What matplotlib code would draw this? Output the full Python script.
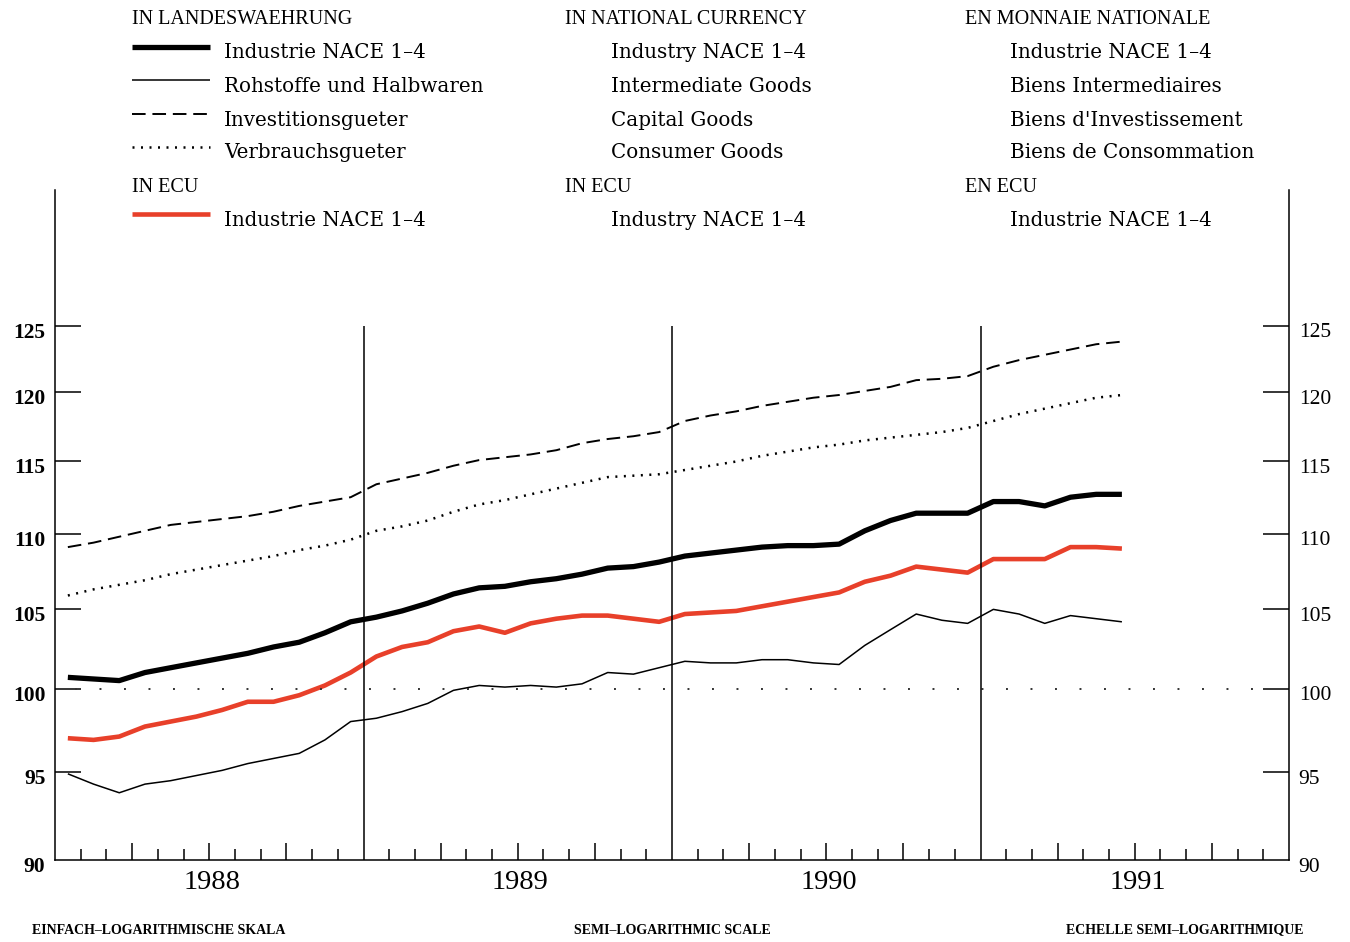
import numpy as np
import matplotlib.pyplot as plt
from matplotlib.lines import Line2D
from matplotlib.ticker import NullLocator, FixedLocator
from matplotlib import transforms

plt.rcParams['font.family'] = ['Liberation Serif', 'DejaVu Serif']

# monthly index values, Jan 1988 - Jun 1991
industrie = [100.7, 100.6, 100.5, 101.0, 101.3, 101.6, 101.9, 102.2, 102.6, 102.9, 103.5, 104.2,
             104.5, 104.9, 105.4, 106.0, 106.4, 106.5, 106.8, 107.0, 107.3, 107.7, 107.8, 108.1,
             108.5, 108.7, 108.9, 109.1, 109.2, 109.2, 109.3, 110.2, 110.9, 111.4, 111.4, 111.4,
             112.2, 112.2, 111.9, 112.5, 112.7, 112.7]
rohstoffe = [94.9, 94.3, 93.8, 94.3, 94.5, 94.8, 95.1, 95.5, 95.8, 96.1, 96.9, 98.0,
             98.2, 98.6, 99.1, 99.9, 100.2, 100.1, 100.2, 100.1, 100.3, 101.0, 100.9, 101.3,
             101.7, 101.6, 101.6, 101.8, 101.8, 101.6, 101.5, 102.7, 103.7, 104.7, 104.3, 104.1,
             105.0, 104.7, 104.1, 104.6, 104.4, 104.2]
investition = [109.1, 109.4, 109.8, 110.2, 110.6, 110.8, 111.0, 111.2, 111.5, 111.9, 112.2, 112.5,
               113.4, 113.8, 114.2, 114.7, 115.1, 115.3, 115.5, 115.8, 116.3, 116.6, 116.8, 117.1,
               117.9, 118.3, 118.6, 119.0, 119.3, 119.6, 119.8, 120.1, 120.4, 120.9, 121.0, 121.2,
               121.9, 122.4, 122.8, 123.2, 123.6, 123.8]
verbrauch = [105.9, 106.3, 106.6, 106.9, 107.3, 107.6, 107.9, 108.2, 108.5, 108.9, 109.2, 109.6,
             110.2, 110.5, 110.9, 111.5, 112.0, 112.3, 112.7, 113.1, 113.5, 113.9, 114.0, 114.1,
             114.4, 114.7, 115.0, 115.4, 115.7, 116.0, 116.2, 116.5, 116.7, 116.9, 117.1, 117.4,
             117.9, 118.4, 118.8, 119.2, 119.6, 119.8]
industrie_ecu = [97.0, 96.9, 97.1, 97.7, 98.0, 98.3, 98.7, 99.2, 99.2, 99.6, 100.2, 101.0,
                 102.0, 102.6, 102.9, 103.6, 103.9, 103.5, 104.1, 104.4, 104.6, 104.6, 104.4, 104.2,
                 104.7, 104.8, 104.9, 105.2, 105.5, 105.8, 106.1, 106.8, 107.2, 107.8, 107.6, 107.4,
                 108.3, 108.3, 108.3, 109.1, 109.1, 109.0]

years = ['1988', '1989', '1990', '1991']
y_ticks = [90, 95, 100, 105, 110, 115, 120, 125]

col_headers = [['IN LANDESWAEHRUNG', 'IN ECU'],
               ['IN NATIONAL CURRENCY', 'IN ECU'],
               ['EN MONNAIE NATIONALE', 'EN ECU']]
col_labels = [['Industrie NACE 1–4', 'Rohstoffe und Halbwaren', 'Investitionsgueter',
               'Verbrauchsgueter', 'Industrie NACE 1–4'],
              ['Industry NACE 1–4', 'Intermediate Goods', 'Capital Goods',
               'Consumer Goods', 'Industry NACE 1–4'],
              ['Industrie NACE 1–4', 'Biens Intermediaires', "Biens d'Investissement",
               'Biens de Consommation', 'Industrie NACE 1–4']]
captions = ['EINFACH–LOGARITHMISCHE SKALA', 'SEMI–LOGARITHMIC SCALE', 'ECHELLE SEMI–LOGARITHMIQUE']

RED = '#e8402a'
styles = [dict(color='black', lw=3.8, ls='-'),
          dict(color='black', lw=1.1, ls='-'),
          dict(color='black', lw=1.4, ls=(0, (7, 3.5))),
          dict(color='black', lw=1.8, ls=(0, (0.8, 2.6))),
          dict(color=RED, lw=3.3, ls='-')]

W, H = 1350, 942
fig = plt.figure(figsize=(W / 100, H / 100), dpi=100)
ax = fig.add_axes([55 / W, 1 - 860 / H, (1289 - 55) / W, (860 - 190) / H])
ax.set_yscale('log')
ax.set_ylim(90, 135.9)
ax.set_xlim(0, 48)

x = np.arange(len(industrie)) + 0.5
series = [industrie, rohstoffe, investition, verbrauch, industrie_ecu]
for vals, st in zip(series, styles):
    ax.plot(x, vals, solid_capstyle='butt', dash_capstyle='butt', **st)

# reference line at 100 and year separators
ax.axhline(100, xmin=0.016, xmax=0.985, color='#333333', lw=1.4, ls=(0, (1, 11.6)))
ax.vlines([12, 24, 36], 90, 125, color='black', lw=1.1)

# y axis
ax.yaxis.set_minor_locator(NullLocator())
ax.set_yticks(y_ticks, labels=[str(v) for v in y_ticks])
ax.tick_params(axis='y', which='major', direction='in', length=19, width=1.1,
               left=True, right=True, labelleft=True, labelright=True, pad=7)
offset = transforms.ScaledTranslation(0, -0.045, fig.dpi_scale_trans)
for t in ax.yaxis.get_major_ticks():
    t.label1.set_fontsize(15.5)
    t.label1.set_fontweight('bold')
    t.label2.set_fontsize(15.5)
    t.label1.set_transform(t.label1.get_transform() + offset)
    t.label2.set_transform(t.label2.get_transform() + offset)
    if t.get_loc() == 90:
        t.tick1line.set_visible(False)
        t.tick2line.set_visible(False)

# x axis: monthly ticks, longer at quarters
months = np.arange(1, 48)
quarters = [m for m in months if m % 3 == 0 and m % 12 != 0]
others = [m for m in months if m % 3 != 0]
ax.xaxis.set_major_locator(FixedLocator(quarters))
ax.xaxis.set_minor_locator(FixedLocator(others))
ax.tick_params(axis='x', which='major', direction='in', length=12, width=1.1, labelbottom=False)
ax.tick_params(axis='x', which='minor', direction='in', length=8, width=1.1)
for i, yr in enumerate(years):
    ax.text(12 * i + 6.1, -0.034, yr, transform=ax.get_xaxis_transform(),
            ha='center', va='center', fontsize=20.5)

ax.spines['top'].set_visible(False)
for s in ['left', 'right', 'bottom']:
    ax.spines[s].set_linewidth(1.1)

# legend block
row_y = [53, 86, 120, 153, 220]
head_y = [20, 187]
head_x = [132, 565, 965]
lab_x = [224, 611, 1010]
for c in range(3):
    for hy, txt in zip(head_y, col_headers[c]):
        fig.text(head_x[c] / W, 1 - hy / H, txt, ha='left', va='center', fontsize=14.5)
    for ry, txt in zip(row_y, col_labels[c]):
        fig.text(lab_x[c] / W, 1 - ry / H, txt, ha='left', va='center', fontsize=14.3,
                 family='DejaVu Serif')
for ry, st in zip(row_y, styles):
    ly = 1 - (ry - 6) / H
    fig.add_artist(Line2D([132 / W, 210 / W], [ly, ly], transform=fig.transFigure,
                          solid_capstyle='butt', dash_capstyle='butt', **st))

# bottom captions
fig.text(32 / W, 1 - 930 / H, captions[0], ha='left', va='center', fontsize=10, fontweight='bold')
fig.text(672 / W, 1 - 930 / H, captions[1], ha='center', va='center', fontsize=10, fontweight='bold')
fig.text(1303 / W, 1 - 930 / H, captions[2], ha='right', va='center', fontsize=10, fontweight='bold')

fig.savefig('out.png', dpi=100, facecolor='white')
